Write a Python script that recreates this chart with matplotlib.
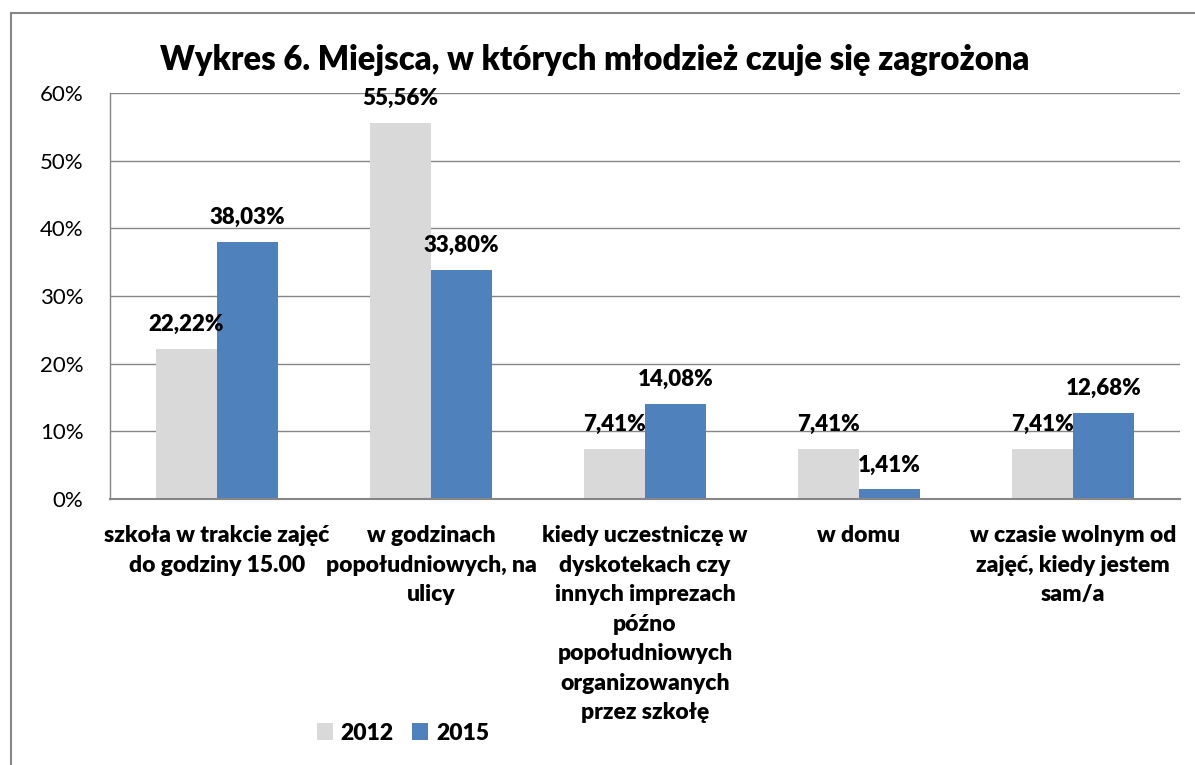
import numpy as np
import matplotlib.pyplot as plt
from matplotlib.patches import Rectangle

plt.rcParams['font.family'] = ['Lato', 'DejaVu Sans']

# data
categories = ['szkoła w trakcie zajęć\ndo godziny 15.00',
              'w godzinach\npopołudniowych, na\nulicy',
              'kiedy uczestniczę w\ndyskotekach czy\ninnych imprezach\npóźno\npopołudniowych\norganizowanych\nprzez szkołę',
              'w domu',
              'w czasie wolnym od\nzajęć, kiedy jestem\nsam/a']
v2012 = [22.22, 55.56, 7.41, 7.41, 7.41]
v2015 = [38.03, 33.80, 14.08, 1.41, 12.68]
series = ['2012', '2015']
colors = ['#D9D9D9', '#4F81BD']

fig = plt.figure(figsize=(11.95, 7.65), dpi=100)
ax = fig.add_axes([110 / 1195, 1 - 499 / 765, 1070 / 1195, 406 / 765])

# outer chart frame
fig.patches.append(Rectangle((11 / 1195, -0.1), 1.1, 1 - 13 / 765 + 0.1,
                             transform=fig.transFigure, fill=False,
                             edgecolor='#868686', linewidth=1.5))

x = np.arange(len(categories))
w = 0.285
b1 = ax.bar(x - w / 2, v2012, w, color=colors[0], label=series[0], zorder=2)
b2 = ax.bar(x + w / 2, v2015, w, color=colors[1], label=series[1], zorder=2)

for bars, vals in [(b1, v2012), (b2, v2015)]:
    for r, v in zip(bars, vals):
        ax.annotate(f'{v:.2f}%'.replace('.', ','), (r.get_x() + r.get_width() / 2, v),
                    xytext=(0, 10), textcoords='offset points', ha='center', va='bottom',
                    fontsize=16, fontweight='heavy', color='black', zorder=3)

ax.set_xlim(-0.5, 4.5)
ax.set_ylim(0, 60)
ax.set_yticks(range(0, 61, 10))
ax.set_yticklabels([f'{t}%' for t in range(0, 61, 10)], fontsize=16)
ax.yaxis.grid(True, color='#868686', linewidth=1, zorder=0)
ax.set_axisbelow(True)
ax.set_xticks(x)
ax.set_xticklabels(categories, fontsize=16.5, fontweight='heavy', linespacing=1.5)
ax.tick_params(axis='both', length=0)
ax.tick_params(axis='x', pad=19)
ax.tick_params(axis='y', pad=19)
for s in ['top', 'right']:
    ax.spines[s].set_visible(False)
ax.spines['left'].set_color('#868686')
ax.spines['bottom'].set_color('#868686')
ax.spines['left'].set_linewidth(1)
ax.spines['bottom'].set_linewidth(1.5)

fig.text(595 / 1195, 1 - 60 / 765, 'Wykres 6. Miejsca, w których młodzież czuje się zagrożona',
         ha='center', va='center', fontsize=23.6, fontweight='heavy')

fig.legend(handles=[b1, b2], labels=series, loc='center', bbox_to_anchor=(403 / 1195, 1 - 733 / 765),
           ncol=2, frameon=False, prop={'size': 16.5, 'weight': 'heavy'},
           handlelength=0.7, handleheight=0.7, handletextpad=0.35, columnspacing=0.8)

fig.savefig('out.png', dpi=100)
